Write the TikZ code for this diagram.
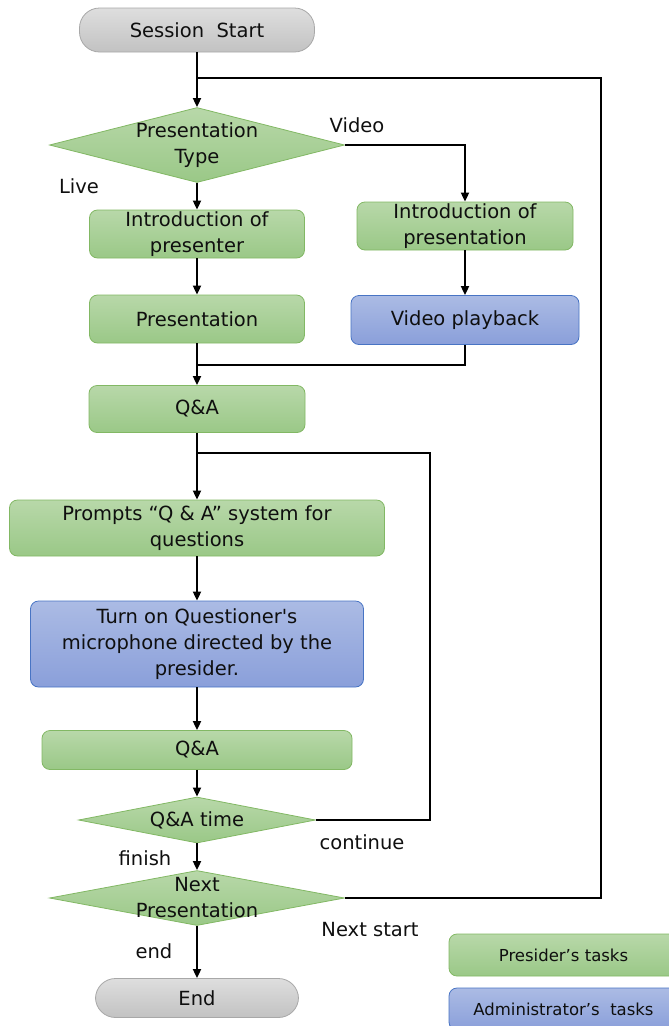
\documentclass[tikz,border=0pt]{standalone}
\usepackage{fontspec}
\setmainfont{DejaVu Sans}[Ligatures=TeXOff]
\usetikzlibrary{shapes.geometric,arrows.meta}

\definecolor{ink}{RGB}{15,15,15}
\definecolor{greentop}{RGB}{184,216,169}
\definecolor{greenbot}{RGB}{154,200,135}
\definecolor{greenline}{RGB}{130,184,100}
\definecolor{bluetop}{RGB}{171,187,228}
\definecolor{bluebot}{RGB}{138,159,218}
\definecolor{blueline}{RGB}{72,116,196}
\definecolor{graytop}{RGB}{222,222,222}
\definecolor{graybot}{RGB}{194,194,194}
\definecolor{grayline}{RGB}{168,168,168}

\tikzset{
  txt/.style={text=ink,font=\fontsize{19.5}{26}\selectfont,align=center},
  presider/.style={txt,rectangle,rounded corners=8pt,top color=greentop,bottom color=greenbot,draw=greenline,line width=0.8pt,inner sep=0pt},
  admin/.style={txt,rectangle,rounded corners=8pt,top color=bluetop,bottom color=bluebot,draw=blueline,line width=0.8pt,inner sep=0pt},
  terminal/.style={txt,rectangle,rounded corners=20pt,top color=graytop,bottom color=graybot,draw=grayline,line width=0.8pt,inner sep=0pt},
  decision/.style={diamond,top color=greentop,bottom color=greenbot,draw=greenline,line width=0.8pt,inner sep=0pt},
  tag/.style={txt,inner sep=0pt},
  flow/.style={draw=black,line width=1.8pt},
  arr/.style={flow,-{Triangle[length=9pt,width=8pt]}}
}

\begin{document}
\begin{tikzpicture}[x=1pt,y=-1pt]
  \useasboundingbox (0,0) rectangle (669,1026);
  \clip (0,0) rectangle (669,1026);

  % main column
  \node[terminal,minimum width=235pt,minimum height=44pt] (start) at (197,30) {Session\ \ Start};
  \node[decision,minimum width=295pt,minimum height=75pt,
        label={[tag]center:Presentation\\Type}] (ptype) at (197,145) {};
  \node[presider,minimum width=215pt,minimum height=48pt] (intropre) at (197,234) {Introduction of\\presenter};
  \node[presider,minimum width=216pt,minimum height=48pt] (introvid) at (465,226) {Introduction of\\presentation};
  \node[presider,minimum width=215pt,minimum height=48pt] (pres) at (197,319) {Presentation};
  \node[admin,minimum width=228pt,minimum height=49pt] (video) at (465,320) {Video playback};
  \node[presider,minimum width=216pt,minimum height=47pt] (qa) at (197,409) {Q\&A};
  \node[presider,minimum width=375pt,minimum height=56pt] (prompt) at (197,528) {Prompts “Q \& A” system for\\questions};
  \node[admin,minimum width=333pt,minimum height=86pt] (mic) at (197,644) {Turn on Questioner's\\microphone directed by the\\presider.};
  \node[presider,minimum width=310pt,minimum height=39pt] (qatwo) at (197,750) {Q\&A};
  \node[decision,minimum width=237pt,minimum height=46pt,
        label={[tag]center:Q\&A time}] (qtime) at (197,820) {};
  \node[decision,minimum width=295pt,minimum height=55pt,
        label={[tag]center:Next\\Presentation}] (npres) at (197,898) {};
  \node[terminal,minimum width=203pt,minimum height=39pt] (end) at (197,998) {End};

  % legend
  \node[presider,minimum width=229pt,minimum height=42pt,font=\fontsize{16.5}{20}\selectfont] (keypre) at (563.5,955) {Presider’s tasks};
  \node[admin,minimum width=229pt,minimum height=42pt,font=\fontsize{16.5}{20}\selectfont] (keyadm) at (563.5,1009) {Administrator’s\ \ tasks};

  % branch labels
  \node[tag] (lvideo) at (357,125) {Video};
  \node[tag] (llive) at (79,186) {Live};
  \node[tag] (lcont) at (362,842) {continue};
  \node[tag] (lfin) at (145,858) {finish};
  \node[tag] (lnext) at (370,930) {Next start};
  \node[tag] (lend) at (154,951) {end};

  % junctions
  \coordinate (jtop) at (197,78);
  \coordinate (jtopr) at (601,78);
  \coordinate (jmid) at (197,365);
  \coordinate (jloop) at (197,453);
  \coordinate (jloopr) at (430,453);

  % connectors
  \draw[arr] (start) -- (ptype.north);
  \draw[arr] (ptype.east) -| (introvid.north);
  \draw[arr] (ptype.south) -- (intropre.north);
  \draw[arr] (intropre) -- (pres);
  \draw[arr] (introvid) -- (video);
  \draw[flow] (pres.south) -- (jmid);
  \draw[flow] (video.south) |- (jmid);
  \draw[arr] (jmid) -- (qa.north);
  \draw[arr] (qa) -- (prompt);
  \draw[arr] (prompt) -- (mic);
  \draw[arr] (mic) -- (qatwo);
  \draw[arr] (qatwo) -- (qtime.north);
  \draw[arr] (qtime.south) -- (npres.north);
  \draw[arr] (npres.south) -- (end);
  \draw[flow] (qtime.east) -| (jloopr) -- (jloop);
  \draw[flow] (npres.east) -| (jtopr) -- (jtop);
\end{tikzpicture}
\end{document}
